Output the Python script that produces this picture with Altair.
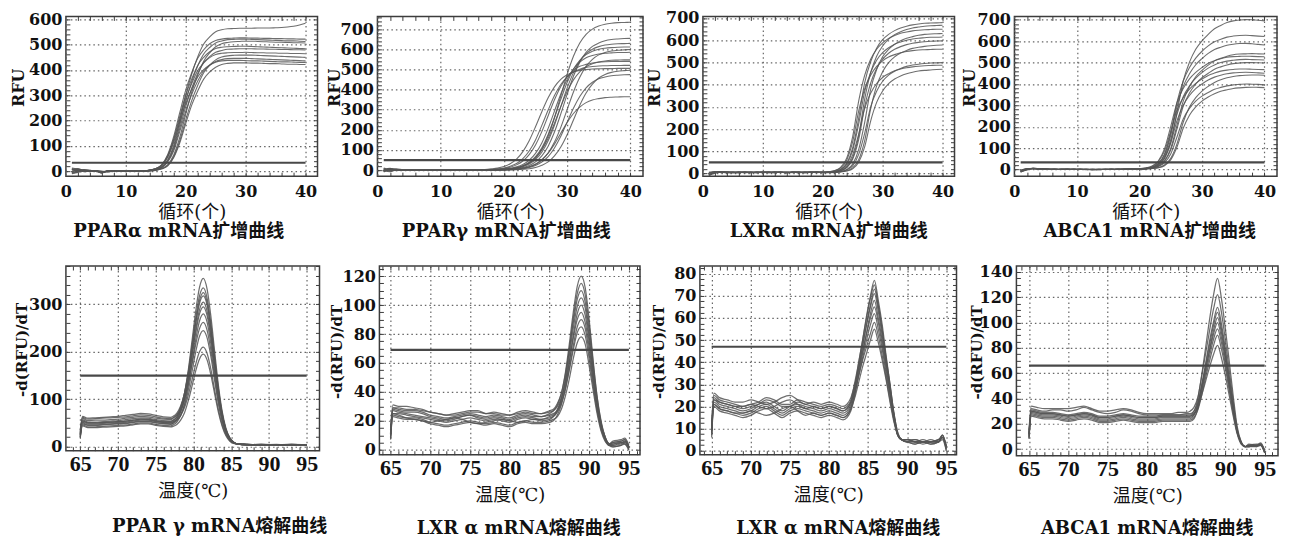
import altair as alt
import pandas as pd

FONT = "DejaVu Serif, Noto Sans CJK SC"
LABEL_FONT = "DejaVu Serif"
BIG_LABEL_FONT = "Liberation Serif"
INK = "#111111"
FRAME = "#3c3c3c"
CURVE = "#555555"
THRESH = "#484848"

# ---------------- data ----------------
CYCLES = list(range(1, 41))

AMP1 = [
    [12, 8, 4, 2, 1, -4, 0, 1, 0, 2, 1, 0, 0, 3, 7, 17, 45, 102, 198, 300, 384, 452, 503, 531, 551, 559, 563, 564, 565, 565, 565, 566, 566, 566, 567, 568, 570, 573, 578, 585],
    [-8, -3, 3, 1, 0, -2, 1, 0, 1, 0, -1, 0, 1, 4, 10, 26, 66, 137, 231, 320, 389, 446, 480, 504, 517, 522, 525, 526, 527, 527, 526, 526, 525, 525, 524, 524, 523, 523, 522, 522],
    [5, 10, 2, -1, 2, -7, -1, 0, 2, 1, 0, -1, 0, 3, 6, 16, 42, 94, 182, 276, 354, 416, 463, 489, 507, 515, 520, 521, 522, 522, 521, 520, 519, 518, 517, 516, 515, 515, 514, 513],
    [-10, -5, 0, 2, 1, 0, -3, 1, 0, -1, 1, 0, 0, 2, 4, 10, 26, 64, 133, 225, 312, 379, 435, 468, 492, 504, 509, 512, 513, 514, 514, 513, 512, 511, 510, 510, 509, 508, 508, 507],
    [8, 2, 6, 3, -1, -5, 0, 2, 1, 0, 0, 1, -1, 4, 10, 25, 62, 128, 216, 300, 364, 418, 450, 472, 485, 490, 492, 493, 494, 494, 493, 492, 491, 490, 489, 488, 487, 486, 485, 484],
    [-4, 6, 1, 0, 2, -2, -2, 0, 0, 1, 2, 0, 0, 2, 6, 14, 39, 87, 169, 255, 328, 386, 429, 453, 470, 477, 482, 483, 484, 484, 484, 483, 483, 482, 482, 481, 481, 480, 480, 479],
    [10, 4, 5, 1, 0, -6, 1, 0, 1, 1, 0, 0, 1, 4, 9, 23, 58, 122, 206, 285, 346, 398, 428, 449, 461, 466, 468, 469, 469, 470, 469, 468, 468, 467, 467, 466, 466, 465, 465, 464],
    [-6, 0, 2, 3, 0, -3, -1, 1, 0, 0, 1, -1, 0, 1, 4, 9, 23, 57, 119, 202, 279, 339, 389, 419, 440, 451, 456, 458, 459, 459, 459, 458, 457, 456, 455, 454, 453, 452, 451, 450],
    [3, 7, -2, 0, 1, -8, 0, 1, 0, 1, 0, 0, 0, 2, 5, 13, 36, 80, 156, 236, 303, 356, 396, 418, 434, 441, 445, 446, 446, 446, 445, 444, 443, 442, 441, 440, 439, 438, 437, 436],
    [-3, 4, 1, 2, -1, -4, 1, 0, -1, 1, 1, 0, 0, 4, 9, 22, 55, 114, 193, 267, 324, 372, 401, 420, 431, 436, 438, 438, 438, 437, 436, 436, 435, 434, 433, 432, 432, 431, 430, 430],
    [6, -2, 3, 0, 2, -5, 0, 0, 1, 0, -1, 1, 0, 1, 3, 9, 21, 54, 111, 188, 261, 317, 364, 392, 411, 422, 426, 428, 428, 428, 427, 427, 426, 425, 425, 424, 423, 423, 422, 422],
]

AMP2 = [
    [-6, 8, 3, 1, 0, 1, -1, 0, 1, 0, 0, 1, 0, -1, 0, 1, 0, 0, 2, 3, 6, 11, 20, 35, 61, 104, 170, 260, 368, 475, 565, 631, 674, 700, 715, 724, 729, 732, 733, 734],
    [5, -4, 2, 0, 1, 0, 0, -1, 0, 1, 0, 0, 1, 0, 0, -1, 0, 0, 1, 2, 4, 7, 13, 23, 41, 71, 119, 189, 279, 376, 466, 536, 584, 614, 631, 642, 648, 651, 653, 654],
    [-9, 3, 6, 2, 0, -1, 1, 0, 0, 0, 1, 0, -1, 0, 1, 0, 0, 1, 2, 3, 5, 9, 17, 30, 52, 89, 146, 223, 315, 407, 484, 541, 578, 600, 613, 621, 625, 627, 628, 629],
    [2, 9, -3, 1, 2, 0, 0, 1, -1, 0, 0, 1, 0, 0, -1, 0, 0, 1, 2, 4, 7, 12, 22, 39, 67, 111, 177, 261, 351, 435, 501, 545, 573, 590, 600, 605, 608, 610, 611, 611],
    [-4, -8, 1, 3, 0, 1, 0, -1, 0, 0, 1, 0, 0, 0, -1, 1, 0, 0, 1, 2, 3, 5, 9, 16, 28, 50, 85, 139, 212, 300, 388, 461, 515, 550, 572, 584, 591, 595, 597, 599],
    [7, 1, 4, -1, 0, 0, 1, 0, 0, -1, 0, 1, 0, 0, 0, 1, 0, 1, 3, 5, 9, 16, 28, 49, 83, 135, 207, 293, 378, 450, 502, 536, 558, 569, 576, 580, 582, 584, 584, 585],
    [-2, 5, 0, 2, 1, -1, 0, 0, 1, 0, -1, 0, 0, 1, 0, 0, 0, 1, 2, 3, 6, 11, 20, 35, 60, 100, 158, 233, 315, 390, 448, 488, 513, 528, 537, 542, 545, 546, 547, 547],
    [10, 2, -2, 0, 1, 0, -1, 1, 0, 0, 0, 1, -1, 0, 0, 0, 1, 2, 4, 8, 14, 26, 45, 77, 125, 191, 270, 349, 415, 463, 495, 515, 525, 532, 536, 538, 539, 539, 540, 540],
    [-7, 6, 2, 1, 0, 0, 1, -1, 0, 1, 0, 0, 0, -1, 0, 1, 2, 3, 6, 10, 19, 33, 57, 95, 150, 222, 298, 370, 425, 463, 487, 501, 510, 514, 517, 518, 519, 519, 520, 520],
    [4, -5, 3, 0, 1, 0, 0, 1, 0, -1, 0, 0, 1, 0, 1, 2, 3, 6, 10, 18, 32, 55, 92, 146, 215, 290, 359, 413, 450, 473, 487, 495, 499, 502, 503, 504, 504, 505, 505, 505],
    [-5, 7, 1, 2, 0, 0, -1, 0, 1, 0, 0, 0, 1, -1, 0, 0, 1, 0, 0, 0, 1, 2, 4, 7, 13, 24, 41, 71, 115, 176, 249, 322, 383, 427, 457, 475, 485, 491, 494, 496],
    [8, -2, 2, 1, 0, 1, 0, 0, -1, 0, 1, 0, 0, 0, 0, 1, 0, -1, 0, 1, 2, 4, 7, 13, 23, 40, 67, 110, 168, 238, 307, 365, 408, 436, 453, 462, 468, 471, 473, 474],
    [-3, 4, 0, 1, 1, 0, 0, -1, 0, 0, 1, 0, 0, 0, -1, 0, 0, 1, 1, 2, 3, 5, 10, 17, 30, 52, 84, 129, 183, 236, 281, 313, 335, 348, 355, 360, 362, 363, 364, 364],
]

AMP3 = [
    [-8, 6, 8, 5, 4, 6, 5, 4, 5, 6, 5, 4, 5, 5, 6, 5, 4, 5, 5, 5, 6, 10, 19, 46, 115, 248, 408, 503, 564, 602, 626, 643, 655, 663, 669, 673, 676, 677, 678, 679],
    [-4, 2, 7, 6, 5, 4, 6, 5, 5, 4, 6, 5, 5, 4, 5, 6, 5, 5, 4, 5, 5, 8, 13, 28, 71, 169, 334, 454, 528, 574, 605, 625, 638, 648, 655, 659, 663, 665, 666, 667],
    [-10, 4, 9, 5, 3, 5, 6, 4, 5, 5, 4, 6, 5, 5, 5, 4, 5, 6, 5, 5, 8, 13, 28, 69, 166, 326, 442, 514, 559, 588, 608, 621, 631, 637, 642, 645, 647, 648, 649, 649],
    [0, 8, 4, 6, 5, 5, 4, 5, 6, 5, 5, 4, 5, 5, 6, 5, 4, 5, 5, 6, 5, 6, 9, 18, 42, 107, 229, 379, 468, 525, 559, 581, 598, 609, 616, 622, 626, 628, 629, 630],
    [-6, 5, 6, 4, 6, 5, 5, 5, 4, 5, 6, 5, 5, 4, 5, 5, 6, 5, 5, 5, 6, 9, 18, 41, 104, 222, 369, 455, 510, 544, 566, 582, 592, 600, 605, 609, 611, 613, 613, 614],
    [3, 9, 5, 5, 4, 5, 6, 5, 4, 5, 5, 6, 5, 4, 5, 5, 5, 6, 5, 4, 5, 7, 12, 26, 64, 152, 300, 407, 472, 514, 541, 559, 571, 580, 586, 590, 593, 595, 596, 597],
    [-7, 3, 7, 6, 5, 4, 5, 5, 6, 5, 4, 5, 5, 5, 6, 4, 5, 5, 6, 5, 5, 5, 7, 12, 25, 62, 147, 291, 394, 458, 499, 525, 542, 554, 563, 568, 572, 575, 577, 578],
    [2, 6, 5, 4, 5, 6, 5, 5, 4, 5, 5, 6, 5, 5, 4, 5, 5, 5, 6, 5, 7, 12, 25, 60, 143, 281, 381, 442, 482, 507, 524, 535, 543, 549, 553, 556, 557, 558, 559, 559],
    [-5, 7, 6, 5, 5, 4, 5, 6, 5, 5, 5, 4, 6, 5, 5, 5, 4, 5, 6, 5, 5, 6, 9, 16, 34, 86, 181, 300, 370, 415, 443, 460, 473, 482, 488, 492, 495, 497, 498, 499],
    [6, 4, 5, 6, 5, 5, 4, 5, 5, 6, 5, 5, 5, 4, 5, 6, 5, 5, 5, 4, 6, 8, 15, 33, 84, 177, 293, 361, 405, 432, 449, 462, 470, 476, 480, 483, 485, 486, 487, 487],
    [-9, 1, 8, 5, 5, 6, 5, 4, 5, 5, 5, 6, 5, 4, 5, 5, 5, 5, 6, 5, 4, 5, 7, 11, 21, 51, 120, 236, 320, 371, 404, 425, 439, 449, 456, 461, 464, 466, 468, 469],
]

AMP4 = [
    [-10, 0, 5, 3, 2, 0, 1, 2, 0, 1, 0, 0, -1, 0, 1, 0, 1, 2, 2, 3, 4, 9, 20, 52, 127, 267, 414, 502, 562, 602, 632, 658, 674, 687, 695, 699, 701, 700, 698, 695],
    [-7, 3, 6, 2, 1, 1, 0, 1, 1, 0, 1, 0, 0, 0, 0, 1, 0, 1, 2, 3, 6, 11, 28, 72, 171, 314, 414, 477, 521, 553, 578, 597, 609, 619, 624, 627, 628, 626, 624, 622],
    [-12, -2, 4, 4, 2, 1, 0, 0, 1, 1, 0, -1, 0, 1, 0, 0, 1, 1, 2, 2, 5, 11, 27, 68, 160, 295, 389, 448, 490, 519, 543, 561, 572, 581, 586, 589, 590, 588, 585, 582],
    [-5, 2, 6, 3, 1, 0, 1, 1, 0, 0, 1, 0, 0, 1, 0, 0, 1, 2, 2, 3, 4, 7, 16, 41, 99, 206, 320, 388, 434, 464, 488, 508, 520, 530, 537, 540, 541, 542, 541, 540],
    [-9, 1, 5, 2, 2, 1, 0, 1, 0, 1, 0, 0, 0, 0, 1, 0, 1, 1, 2, 4, 7, 16, 40, 96, 201, 313, 379, 424, 454, 477, 497, 509, 518, 525, 528, 529, 530, 529, 528, 527],
    [-3, 4, 5, 3, 1, 1, 0, 0, 1, 0, 0, 1, 0, 0, 1, 0, 0, 1, 2, 3, 5, 10, 24, 60, 140, 258, 340, 391, 427, 453, 474, 489, 500, 507, 511, 514, 515, 514, 513, 512],
    [-11, -1, 6, 4, 2, 0, 1, 1, 0, 0, 1, 0, -1, 0, 1, 1, 0, 1, 2, 2, 4, 7, 15, 38, 91, 190, 295, 358, 400, 429, 450, 469, 480, 489, 495, 498, 500, 500, 499, 498],
    [-6, 3, 4, 3, 1, 1, 1, 0, 0, 1, 0, 0, 1, 0, 0, 1, 1, 1, 2, 4, 7, 14, 36, 86, 179, 277, 336, 376, 403, 423, 440, 451, 460, 465, 468, 470, 470, 469, 468, 467],
    [-8, 2, 5, 2, 2, 0, 0, 1, 1, 0, 0, 0, 1, 0, 0, 1, 0, 1, 1, 3, 5, 9, 21, 53, 124, 228, 300, 346, 378, 400, 419, 432, 441, 448, 452, 454, 455, 454, 452, 450],
    [-4, 1, 6, 3, 1, 1, 0, 0, 1, 0, 1, 0, 0, 0, 1, 0, 1, 1, 2, 2, 3, 5, 9, 21, 52, 120, 221, 292, 336, 367, 389, 407, 420, 429, 435, 439, 441, 442, 442, 441],
    [-10, 0, 4, 4, 1, 1, 0, 1, 0, 0, 0, 1, 0, 0, 0, 1, 1, 1, 2, 2, 4, 6, 13, 31, 73, 152, 236, 286, 320, 343, 360, 375, 384, 391, 396, 398, 400, 399, 398, 396],
    [-7, 2, 5, 2, 2, 1, 0, 0, 1, 1, 0, 0, 0, 1, 0, 0, 1, 1, 2, 2, 3, 5, 8, 18, 45, 105, 193, 254, 293, 320, 339, 354, 366, 373, 379, 382, 384, 385, 384, 383],
]

TEMP5 = [65, 65.3, 66, 67, 68, 69, 70, 71, 72, 73, 74, 75, 76, 77, 77.3, 77.8, 78.3, 78.8, 79.3, 79.8, 80.3, 80.8, 81.3, 81.8, 82.3, 82.8, 83.3, 83.8, 84.3, 84.8, 85.3, 85.8, 87, 89, 91, 93, 95]
MELT5 = [
    [25, 55, 50, 50, 51, 52, 53, 54, 56, 58, 58, 55, 53, 53, 55, 63, 81, 112, 160, 222, 286, 336, 355, 333, 276, 202, 130, 75, 39, 19, 10, 6, 5, 4, 4, 5, 3],
    [30, 60, 55, 56, 56, 57, 58, 60, 62, 64, 63, 60, 58, 57, 60, 67, 83, 112, 156, 213, 272, 318, 335, 314, 261, 190, 123, 71, 37, 19, 10, 6, 4, 5, 3, 4, 4],
    [22, 48, 45, 45, 46, 47, 48, 49, 51, 53, 53, 50, 48, 47, 50, 57, 73, 102, 146, 203, 262, 308, 325, 305, 253, 185, 120, 69, 36, 18, 9, 6, 5, 3, 4, 4, 2],
    [35, 64, 60, 61, 62, 63, 64, 66, 68, 70, 69, 66, 63, 62, 64, 71, 86, 112, 153, 205, 260, 302, 318, 299, 247, 181, 117, 68, 35, 18, 9, 6, 4, 4, 5, 3, 4],
    [20, 52, 48, 48, 49, 50, 51, 52, 54, 56, 56, 53, 51, 50, 52, 59, 74, 100, 141, 193, 247, 289, 305, 286, 237, 173, 112, 65, 34, 17, 9, 6, 5, 4, 3, 4, 3],
    [28, 57, 52, 52, 53, 54, 55, 57, 59, 61, 60, 57, 55, 54, 56, 63, 76, 101, 139, 189, 240, 280, 295, 277, 230, 168, 109, 63, 33, 17, 9, 6, 4, 5, 4, 3, 4],
    [18, 46, 42, 42, 43, 44, 45, 46, 48, 50, 50, 47, 45, 44, 46, 52, 66, 90, 128, 176, 226, 265, 280, 263, 218, 159, 103, 60, 32, 16, 9, 6, 4, 3, 4, 5, 3],
    [32, 62, 58, 59, 60, 61, 62, 63, 65, 67, 66, 63, 60, 59, 61, 67, 78, 99, 131, 173, 216, 249, 262, 246, 204, 149, 97, 56, 30, 15, 8, 6, 5, 4, 4, 4, 3],
    [24, 50, 46, 46, 47, 48, 49, 50, 52, 54, 54, 51, 49, 48, 49, 55, 66, 86, 118, 158, 200, 233, 245, 230, 191, 140, 91, 53, 28, 15, 8, 6, 4, 4, 3, 5, 4],
    [26, 54, 50, 50, 51, 52, 53, 54, 56, 58, 57, 54, 52, 51, 53, 57, 66, 82, 108, 140, 174, 200, 210, 197, 164, 120, 78, 46, 25, 13, 8, 6, 4, 5, 4, 4, 3],
    [20, 44, 40, 40, 41, 42, 43, 44, 46, 48, 48, 45, 43, 42, 43, 47, 56, 71, 96, 127, 160, 185, 195, 183, 152, 112, 73, 43, 23, 12, 7, 6, 5, 4, 4, 3, 3],
]

TEMP6 = [65, 65.3, 66, 67, 68, 69, 70, 71, 72, 73, 74, 75, 76, 77, 78, 79, 80, 81, 82, 83, 84, 85, 85.5, 86, 86.5, 87, 87.5, 88, 88.5, 89, 89.5, 90, 90.5, 91, 91.5, 92, 92.5, 93, 94, 94.5, 95]
MELT6 = [
    [11, 29, 28, 27, 27, 26, 24, 23, 22, 23, 24, 25, 24, 23, 24, 23, 22, 24, 25, 24, 23, 25, 27, 31, 39, 53, 73, 95, 113, 120, 112, 90, 62, 37, 20, 9, 4, 5, 6, 7, 2],
    [8, 25, 24, 22, 21, 20, 19, 20, 21, 22, 21, 19, 18, 19, 20, 21, 20, 19, 20, 21, 20, 21, 23, 27, 35, 49, 69, 91, 108, 115, 107, 86, 60, 36, 19, 9, 4, 3, 5, 6, 1],
    [14, 31, 30, 30, 29, 28, 26, 25, 24, 25, 26, 27, 27, 25, 26, 25, 24, 26, 27, 26, 25, 27, 28, 32, 39, 52, 69, 88, 104, 110, 102, 82, 57, 34, 18, 9, 4, 6, 7, 8, 3],
    [10, 27, 26, 25, 24, 23, 22, 21, 20, 21, 23, 24, 22, 21, 22, 21, 20, 22, 23, 22, 21, 23, 24, 28, 35, 47, 65, 84, 99, 105, 98, 78, 54, 33, 17, 8, 4, 4, 5, 4, 0],
    [7, 23, 22, 21, 21, 20, 18, 17, 16, 17, 18, 19, 18, 17, 18, 17, 16, 18, 19, 18, 18, 19, 20, 24, 31, 43, 60, 79, 94, 100, 93, 75, 52, 31, 17, 8, 4, 2, 3, 5, 1],
    [12, 29, 29, 28, 28, 27, 26, 25, 24, 24, 25, 26, 26, 25, 25, 24, 24, 25, 26, 25, 25, 26, 27, 30, 36, 46, 61, 77, 90, 95, 88, 71, 49, 30, 16, 8, 4, 5, 6, 7, 2],
    [9, 25, 25, 24, 23, 22, 21, 20, 19, 20, 21, 22, 21, 20, 21, 20, 19, 21, 22, 21, 21, 22, 23, 26, 32, 42, 56, 72, 85, 90, 84, 67, 47, 28, 15, 7, 3, 3, 4, 6, 1],
    [11, 28, 27, 26, 26, 25, 23, 22, 21, 22, 23, 24, 23, 22, 23, 22, 21, 23, 24, 23, 23, 24, 25, 27, 33, 42, 55, 69, 81, 85, 79, 63, 44, 27, 14, 7, 3, 4, 5, 5, 2],
    [8, 24, 23, 22, 22, 21, 19, 18, 17, 18, 19, 20, 19, 18, 19, 18, 17, 19, 20, 19, 19, 20, 21, 23, 28, 37, 49, 63, 74, 78, 73, 58, 41, 25, 13, 6, 3, 2, 3, 4, 0],
]

TEMP7 = [65, 65.3, 66, 67, 68, 69, 70, 71, 72, 73, 74, 75, 76, 77, 78, 79, 80, 81, 81.8, 82.3, 82.8, 83.3, 83.8, 84.3, 84.8, 85.3, 85.8, 86.3, 86.8, 87.3, 87.8, 88.3, 88.8, 89.3, 90, 91, 92, 93, 94, 94.5, 95]
MELT7 = [
    [9, 23, 21, 20, 19, 18, 19, 21, 22, 20, 18, 20, 21, 20, 19, 18, 19, 18, 17, 18, 21, 29, 40, 50, 61, 70, 77, 68, 57, 43, 30, 17, 8, 5, 5, 4, 4, 4, 5, 7, 1],
    [11, 25, 23, 22, 21, 20, 21, 22, 24, 23, 21, 21, 23, 22, 21, 20, 21, 20, 19, 20, 23, 31, 40, 50, 60, 69, 75, 66, 55, 42, 30, 17, 8, 5, 4, 5, 4, 3, 4, 6, 2],
    [7, 21, 19, 18, 17, 16, 17, 19, 20, 18, 16, 18, 19, 18, 17, 16, 17, 16, 15, 16, 19, 27, 37, 47, 57, 66, 73, 65, 54, 41, 29, 16, 7, 5, 4, 3, 4, 4, 4, 6, 0],
    [10, 24, 22, 21, 20, 20, 21, 20, 19, 20, 22, 23, 21, 19, 20, 19, 20, 19, 18, 19, 22, 29, 38, 48, 57, 65, 71, 63, 52, 40, 28, 16, 7, 5, 5, 4, 5, 4, 4, 7, 2],
    [6, 20, 18, 17, 16, 15, 16, 18, 19, 17, 15, 17, 18, 17, 16, 15, 16, 15, 14, 15, 18, 25, 35, 44, 53, 62, 68, 60, 50, 39, 27, 16, 7, 5, 4, 4, 3, 4, 5, 6, 1],
    [12, 26, 24, 23, 22, 22, 23, 22, 21, 22, 24, 25, 23, 21, 22, 21, 22, 21, 20, 21, 24, 30, 37, 45, 53, 60, 65, 58, 48, 37, 26, 15, 7, 5, 5, 5, 4, 5, 4, 7, 2],
    [8, 22, 20, 19, 18, 17, 18, 20, 21, 19, 17, 19, 20, 19, 18, 17, 18, 17, 16, 17, 20, 26, 34, 42, 50, 57, 62, 55, 46, 35, 25, 14, 7, 5, 4, 4, 4, 3, 4, 6, 1],
    [9, 23, 22, 21, 20, 19, 20, 21, 23, 22, 20, 20, 22, 21, 20, 19, 20, 19, 18, 19, 22, 27, 34, 41, 47, 53, 58, 52, 43, 33, 23, 14, 7, 5, 5, 4, 4, 4, 5, 6, 2],
    [8, 21, 19, 18, 17, 17, 18, 17, 16, 17, 19, 20, 18, 16, 17, 16, 17, 16, 15, 16, 19, 24, 31, 38, 44, 50, 55, 49, 41, 32, 22, 13, 7, 5, 4, 3, 4, 4, 4, 5, 0],
]

TEMP8 = [65, 65.3, 66, 67, 68, 69, 70, 71, 72, 73, 74, 75, 76, 77, 78, 79, 80, 81, 82, 83, 84, 85, 85.5, 86, 86.5, 87, 87.5, 88, 88.5, 89, 89.5, 90, 90.5, 91, 91.5, 92, 92.5, 93, 94, 94.5, 95]
MELT8 = [
    [12, 31, 30, 29, 29, 28, 27, 28, 29, 28, 26, 26, 27, 28, 27, 26, 26, 26, 27, 27, 27, 27, 27, 30, 40, 59, 81, 103, 122, 135, 119, 95, 69, 42, 18, 6, 2, 3, 3, 4, -2],
    [15, 34, 33, 32, 32, 32, 32, 33, 34, 32, 30, 30, 31, 32, 31, 29, 28, 28, 28, 28, 29, 29, 30, 33, 41, 58, 76, 94, 111, 122, 108, 86, 62, 38, 16, 6, 2, 4, 3, 5, -1],
    [9, 28, 27, 26, 26, 25, 24, 25, 26, 25, 23, 23, 24, 25, 24, 23, 23, 23, 24, 24, 24, 24, 24, 27, 35, 50, 68, 86, 101, 112, 99, 79, 57, 35, 15, 5, 2, 2, 3, 3, -3],
    [11, 30, 29, 28, 28, 27, 26, 27, 28, 27, 25, 25, 26, 27, 26, 25, 25, 25, 26, 26, 26, 26, 26, 28, 36, 51, 67, 83, 98, 108, 95, 76, 55, 34, 15, 5, 2, 3, 4, 4, -2],
    [8, 26, 25, 24, 24, 23, 22, 23, 24, 23, 21, 21, 22, 23, 22, 21, 21, 21, 22, 22, 22, 22, 22, 24, 32, 47, 63, 79, 94, 104, 92, 73, 53, 33, 14, 5, 2, 2, 2, 3, -3],
    [13, 32, 31, 30, 31, 31, 30, 31, 33, 31, 29, 28, 29, 31, 30, 28, 27, 27, 27, 27, 27, 28, 28, 30, 37, 50, 64, 78, 91, 100, 88, 71, 51, 31, 14, 5, 2, 3, 3, 4, -2],
    [10, 29, 28, 27, 27, 26, 25, 26, 27, 26, 24, 24, 25, 26, 25, 24, 24, 24, 25, 25, 25, 25, 25, 27, 33, 46, 60, 74, 87, 95, 84, 67, 49, 30, 13, 5, 2, 2, 3, 3, -1],
    [9, 27, 26, 25, 25, 24, 23, 24, 25, 24, 22, 22, 23, 24, 23, 22, 22, 22, 23, 23, 23, 23, 23, 25, 31, 43, 57, 70, 82, 90, 79, 64, 46, 28, 13, 5, 2, 3, 2, 4, -2],
    [12, 30, 29, 28, 28, 27, 26, 27, 28, 27, 25, 25, 26, 27, 26, 25, 25, 25, 26, 26, 26, 26, 26, 28, 33, 43, 54, 65, 75, 82, 72, 58, 42, 26, 12, 4, 2, 2, 3, 3, -2],
]

AMP_THRESHOLDS = [33, 50, 50, 33]
MELT_THRESHOLDS = [150, 69, 47, 66]
AMP_SPAN = [1, 40]
MELT_SPAN = [65, 95]

AMP_CAPTIONS = ["PPARα mRNA扩增曲线", "PPARγ mRNA扩增曲线", "LXRα mRNA扩增曲线", "ABCA1 mRNA扩增曲线"]
MELT_CAPTIONS = ["PPAR γ mRNA熔解曲线", "LXR α mRNA熔解曲线", "LXR α mRNA熔解曲线", "ABCA1 mRNA熔解曲线"]
AMP_XTITLE = "循环(个)"
MELT_XTITLE = "温度(℃)"
AMP_YTITLE = "RFU"
MELT_YTITLE = "-d(RFU)/dT"

AMP_XTICKS = [0, 10, 20, 30, 40]
MELT_XTICKS = [65, 70, 75, 80, 85, 90, 95]
AMP_YTICKS = [[0, 100, 200, 300, 400, 500, 600],
              [0, 100, 200, 300, 400, 500, 600, 700],
              [0, 100, 200, 300, 400, 500, 600, 700],
              [0, 100, 200, 300, 400, 500, 600, 700]]
MELT_YTICKS = [[0, 100, 200, 300],
               [0, 20, 40, 60, 80, 100, 120],
               [0, 10, 20, 30, 40, 50, 60, 70, 80],
               [0, 20, 40, 60, 80, 100, 120, 140]]


# ---------------- chart ----------------
def panel(xs, curves, thr, span, xdom, ydom, xmaj, ymaj, xminor, yminor, w, h,
          xtitle, ytitle, caption, yext, cap_dx, cap_off, bottom_row):
    rows = [{"x": x, "y": y, "c": i} for i, ys in enumerate(curves) for x, y in zip(xs, ys)]
    df = pd.DataFrame(rows)
    sx = alt.Scale(domain=xdom, nice=False, zero=False)
    sy = alt.Scale(domain=ydom, nice=False, zero=False)
    if bottom_row:
        xlab = dict(labelFont=BIG_LABEL_FONT, labelFontSize=22, labelPadding=3, titlePadding=8)
        ytfs = 15
        sw = 1.25
    else:
        xlab = dict(labelFont=LABEL_FONT, labelFontSize=16, labelPadding=7, titlePadding=4)
        ytfs = 16
        sw = 1.1
    xaxis = alt.Axis(values=xmaj, title=xtitle, grid=True, ticks=False, domain=False,
                     labelFlush=False, labelOverlap=False, labelFontWeight="bold", labelColor=INK,
                     titleFont=FONT, titleFontSize=18, titleFontWeight="normal", titleColor=INK,
                     **xlab)
    yaxis = alt.Axis(values=ymaj, title=ytitle, grid=True, ticks=False, domain=False,
                     labelFlush=False, labelOverlap=False, labelFont=LABEL_FONT, labelFontSize=16,
                     labelFontWeight="bold", labelColor=INK, labelPadding=4,
                     minExtent=yext, maxExtent=yext, titlePadding=0,
                     titleFont=LABEL_FONT, titleFontSize=ytfs, titleFontWeight="bold",
                     titleColor=INK, titleY=h / 2 - 9)
    lines = alt.Chart(df).mark_line(interpolate="monotone", color=CURVE, strokeWidth=sw,
                                    opacity=0.85, clip=True).encode(
        x=alt.X("x:Q", scale=sx, axis=xaxis),
        y=alt.Y("y:Q", scale=sy, axis=yaxis),
        detail="c:N",
    )
    tdf = pd.DataFrame({"x": [span[0]], "x2": [span[1]], "y": [thr]})
    rule = alt.Chart(tdf).mark_rule(color=THRESH, strokeWidth=2.2).encode(
        x=alt.X("x:Q", scale=sx, axis=None), x2="x2:Q",
        y=alt.Y("y:Q", scale=sy, axis=None),
    )
    layers = [lines, rule]
    for orient, vals in (("bottom", xminor), ("top", xminor), ("left", yminor), ("right", yminor)):
        ax = alt.Axis(orient=orient, values=vals, labels=False, domain=False, grid=False,
                      ticks=True, tickSize=4, offset=-4, tickColor=FRAME, tickWidth=1, title=None)
        base = alt.Chart(tdf).mark_point(opacity=0)
        if orient in ("bottom", "top"):
            layers.append(base.encode(x=alt.X("x:Q", scale=sx, axis=ax),
                                      y=alt.Y("y:Q", scale=sy, axis=None)))
        else:
            layers.append(base.encode(x=alt.X("x:Q", scale=sx, axis=None),
                                      y=alt.Y("y:Q", scale=sy, axis=ax)))
    return alt.layer(*layers).resolve_axis(x="independent", y="independent").properties(
        width=w, height=h,
        title=alt.TitleParams(text=caption, orient="bottom", font=FONT, fontSize=18,
                              fontWeight="bold", color=INK, offset=cap_off, dx=cap_dx),
    )


amp_data = [AMP1, AMP2, AMP3, AMP4]
amp_ydom = [[-20, 612], [-30, 763], [-12, 707], [-31, 716]]
amp_w = [252, 266, 252, 263]
amp_ext = [39, 35, 40, 37]
amp_dx = [-13, -4, 0, 4]
amp_yminor = [list(range(0, 601, 20)), list(range(0, 761, 20)),
              list(range(0, 701, 20)), list(range(0, 701, 20))]

top_panels = [
    panel(CYCLES, amp_data[i], AMP_THRESHOLDS[i], AMP_SPAN, [0, 42], amp_ydom[i],
          AMP_XTICKS, AMP_YTICKS[i], list(range(2, 41, 2)), amp_yminor[i],
          amp_w[i], 160, AMP_XTITLE, AMP_YTITLE, AMP_CAPTIONS[i], amp_ext[i],
          amp_dx[i], 2, False)
    for i in range(4)
]

melt_data = [(TEMP5, MELT5), (TEMP6, MELT6), (TEMP7, MELT7), (TEMP8, MELT8)]
melt_xdom = [[63.1, 96.7], [63.6, 96.4], [63.5, 96.3], [63.4, 96.7]]
melt_ydom = [[-8.5, 381], [-3.4, 127], [-1.8, 83.5], [-5.2, 144.7]]
melt_w = [254, 261, 257, 262]
melt_h = [185, 189, 189, 190]
melt_ext = [36, 35, 33, 32]
melt_dx = [27, 9, 10, 0]
melt_off = [17, 15, 15, 14]
melt_yminor = [list(range(0, 381, 20)), list(range(0, 126, 5)),
               [i * 2.5 for i in range(0, 34)], list(range(0, 141, 5))]

bottom_panels = [
    panel(melt_data[i][0], melt_data[i][1], MELT_THRESHOLDS[i], MELT_SPAN, melt_xdom[i],
          melt_ydom[i], MELT_XTICKS, MELT_YTICKS[i], list(range(64, 97)), melt_yminor[i],
          melt_w[i], melt_h[i], MELT_XTITLE, MELT_YTITLE, MELT_CAPTIONS[i], melt_ext[i],
          melt_dx[i], melt_off[i], True)
    for i in range(4)
]

top = alt.hconcat(*top_panels, spacing=60, bounds="flush")
bottom = alt.hconcat(*bottom_panels, spacing=60, bounds="flush")

chart = alt.vconcat(top, bottom, spacing=21).properties(
    padding={"left": 2, "top": 0, "right": 2, "bottom": 0},
    background="white",
).configure_view(
    stroke=FRAME, strokeWidth=1.5,
).configure_axis(
    gridColor="#666666", gridDash=[1.5, 3], gridWidth=1.2,
)

chart.save("out.html", embed_options={"renderer": "svg", "actions": False})
